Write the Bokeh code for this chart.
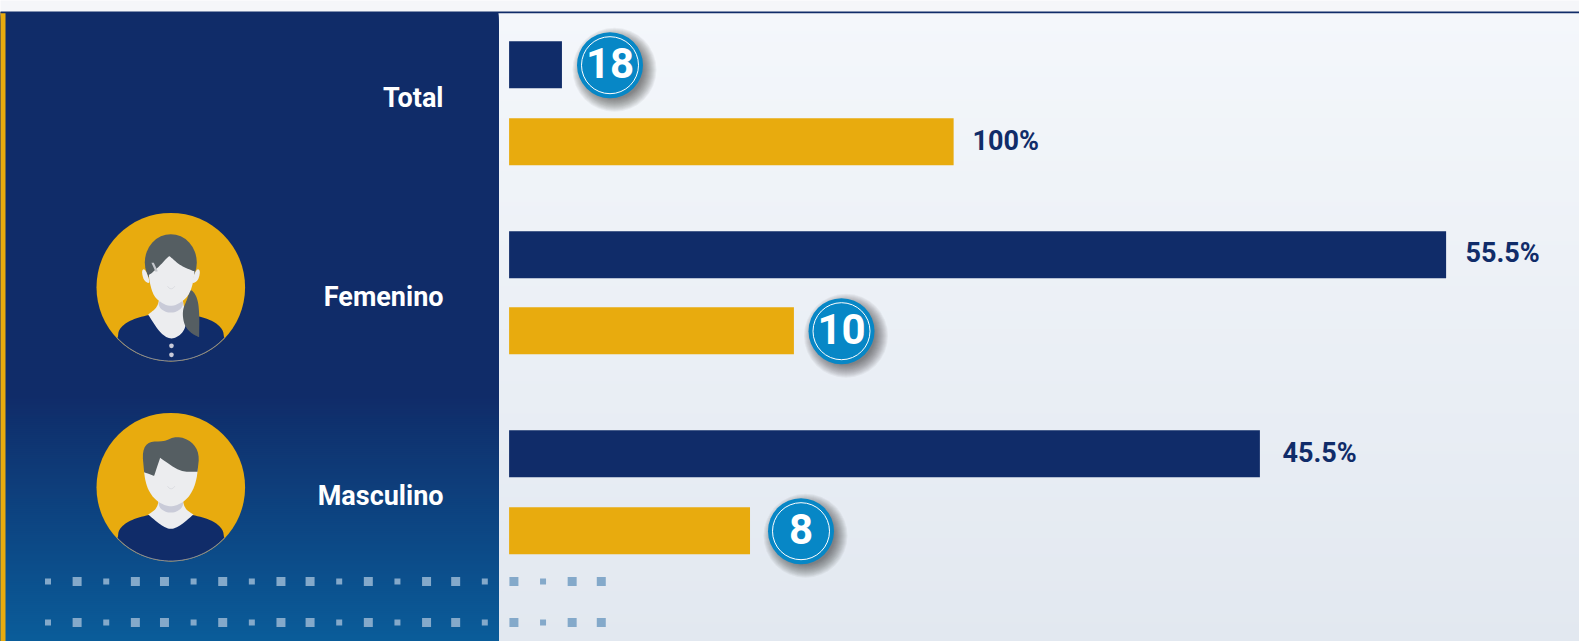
import numpy as np
from bokeh.plotting import figure
from bokeh.models import Range1d
from bokeh.core.properties import value
from bokeh.embed import file_html
from bokeh.resources import INLINE

# ---- data ----
categories = ["Total", "Femenino", "Masculino"]
navy_bars = [3.13, 55.5, 44.47]
gold_bars = [26.33, 16.87, 14.27]
pct_labels = ["100%", "55.5%", "45.5%"]
badge_labels = ["18", "10", "8"]

NAVY, GOLD, BLUE = "#102c69", "#e8ab0e", "#0787c6"
HAIR, SKIN, SHADE = "#555e62", "#ecedef", "#c9cbd8"
W, H = 1579, 641
PX = 16.883
X0 = 508.6

p = figure(width=W, height=H, x_range=(0, W), y_range=(H, 0), output_backend="svg",
           toolbar_location=None, min_border=0, outline_line_color=None,
           background_fill_color="#f5f6f9", border_fill_color="#f5f6f9",
           styles={"position": "absolute", "left": "0px", "top": "0px"})
p.axis.visible = False
p.grid.visible = False
p.extra_x_ranges = {"bars": Range1d(-X0 / PX, (W - X0) / PX)}


def mix(a, b, t):
    a = [int(a[i:i + 2], 16) for i in (1, 3, 5)]
    b = [int(b[i:i + 2], 16) for i in (1, 3, 5)]
    return "#%02x%02x%02x" % tuple(round(u + (v - u) * t) for u, v in zip(a, b))


# backgrounds: each band reaches to the bottom so that no seams show
ys = np.arange(12, H, 2)
p.quad(left=-2, right=W + 2, top=ys, bottom=H + 2, line_alpha=0,
       fill_color=[mix("#f4f7fb", "#e2e8f0", (y - 12) / (H - 12)) for y in ys])
p.quad(left=-2, right=498, top=ys, bottom=H + 2, line_alpha=0,
       fill_color=[mix(NAVY, "#0a5d9a", max(0, (y - 395) / (H - 395))) for y in ys])
p.quad(left=-2, right=4.5, top=12, bottom=H + 2, fill_color=GOLD, line_color=GOLD, line_width=1)
p.quad(left=-2, right=W + 2, top=11, bottom=12.7, fill_color=NAVY, line_alpha=0)

# dots
big_pattern = [0, 1, 0, 1, 1, 0, 1, 0, 1, 1, 0, 1, 0, 1, 1, 0, 1, 0, 1, 1]
for row_y in (581, 622):
    for i, big in enumerate(big_pattern):
        cx = 47.5 + i * 29.12
        s = 9 if big else 6
        p.rect(x=cx, y=row_y, width=s, height=s, fill_color="#84a9ca", line_alpha=0)

# bars
row_centers = [(64.2, 141.2), (254.2, 330.2), (453.2, 530.2)]
p.hbar(y=[r[0] for r in row_centers], left=0, right=navy_bars, height=47, fill_color=NAVY, line_alpha=0,
       x_range_name="bars")
p.hbar(y=[r[1] for r in row_centers], left=0, right=gold_bars, height=47, fill_color=GOLD, line_alpha=0,
       x_range_name="bars")

# texts
p.text(x=[443] * 3, y=[97, 296.5, 495.5], text=categories, text_align="right", text_baseline="middle",
       text_color="#ffffff", text_font=value("Roboto"), text_font_style="bold", text_font_size="27px")
p.text(x=[972, 1465, 1282], y=[140.5, 252.5, 452.5], text=pct_labels, text_align="left", text_baseline="middle",
       text_color=NAVY, text_font=value("Roboto"), text_font_style="bold", text_font_size="27px")

# badges
badge_x = [609.5, 841, 800.5]
badge_y = [64.7, 330.7, 530.7]
for bx, by in zip(badge_x, badge_y):
    for r in np.arange(42, 28, -1.0):
        p.circle(x=bx + 4.5, y=by + 4.5, radius=r, fill_color="#23262b", fill_alpha=0.05, line_alpha=0)
    p.circle(x=bx, y=by, radius=33, fill_color=BLUE, line_alpha=0)
    p.circle(x=bx, y=by, radius=28.5, fill_alpha=0, line_color="#ffffff", line_width=1)
p.text(x=badge_x, y=[v - 1.8 for v in badge_y], text=badge_labels, text_align="center", text_baseline="middle",
       text_color="#ffffff", text_font=value("Roboto"), text_font_style="bold", text_font_size="42px")


# avatars: outlines below are picture pixels x3, relative to the crop origin
def smooth(pts, n=3):
    pts = np.array(pts, float)
    for _ in range(n):
        a, b = pts, np.roll(pts, -1, axis=0)
        pts = np.empty((2 * len(a), 2))
        pts[0::2] = .75 * a + .25 * b
        pts[1::2] = .25 * a + .75 * b
    return pts


def smooth_open(pts, n=3):
    pts = np.array(pts, float)
    for _ in range(n):
        a, b = pts[:-1], pts[1:]
        mid = np.empty((2 * len(a), 2))
        mid[0::2] = .75 * a + .25 * b
        mid[1::2] = .25 * a + .75 * b
        pts = np.r_[pts[:1], mid, pts[-1:]]
    return pts


def avatar(cy, female):
    cx = 170.3

    def draw(pts, color, n=3):
        q = smooth(pts, n)
        p.patch(cx + (q[:, 0] - 272) / 3, cy + (q[:, 1] - 260) / 3, fill_color=color, line_alpha=0)

    def dot(x, y, r, color):
        p.circle(x=cx + (x - 272) / 3, y=cy + (y - 260) / 3, radius=r / 3, fill_color=color, line_alpha=0)

    p.circle(x=cx, y=cy, radius=74.3, fill_color=GOLD, line_alpha=0)
    # body
    ang = np.radians(np.linspace(43, 137, 30))
    arc = np.c_[272 + 221.5 * np.cos(ang), 260 + 221.5 * np.sin(ang)]
    top = smooth_open([(113, 412), (116, 385), (150, 358), (210, 342), (272, 330), (333, 342), (395, 358),
                       (428, 385), (432, 412)], 3)
    outline = np.r_[top, arc]
    p.patch(cx + (outline[:, 0] - 272) / 3, cy + (outline[:, 1] - 260) / 3, fill_color=NAVY, line_alpha=0)
    p.line(cx + (arc[:, 0] - 272) / 3, cy + (arc[:, 1] - 260) / 3, line_color="#8e97ab", line_width=0.8)
    # neck
    if female:
        draw([(238, 290), (232, 320), (204, 342), (204, 342), (240, 398), (272, 418), (305, 402),
              (320, 370), (312, 320), (306, 290)], SKIN)
    else:
        draw([(238, 290), (230, 325), (204, 342), (204, 342), (245, 376), (272, 388), (300, 376),
              (340, 342), (340, 342), (314, 325), (306, 290)], SKIN)
    draw([(235, 295), (237, 325), (272, 340), (307, 325), (310, 295)], SHADE)
    if female:
        # hair, ears, ponytail, face
        p.ellipse(x=cx, y=cy + (186 - 260) / 3, width=156 / 3, height=170 / 3, fill_color=HAIR, line_alpha=0)
        draw([(196, 205), (184, 208), (190, 240), (212, 252)], SKIN)
        draw([(348, 205), (361, 208), (355, 240), (332, 252)], SKIN)
        draw([(330, 262), (352, 290), (358, 340), (357, 410), (357, 410), (335, 400), (312, 375),
              (306, 330), (322, 295)], HAIR)
        draw([(205, 222), (210, 222), (240, 195), (266, 166), (270, 168), (300, 195), (340, 212), (344, 212),
              (336, 262), (318, 296), (272, 322), (226, 296), (212, 262)], SKIN)
        q = np.array([[214, 187], [221, 187], [233, 212], [226, 214]], float)
        p.patch(cx + (q[:, 0] - 272) / 3, cy + (q[:, 1] - 260) / 3, fill_color="#c4c7cc", line_alpha=0)
        dot(274, 436, 7, SHADE)
        dot(274, 463, 7, SHADE)
    else:
        draw([(200, 225), (205, 260), (222, 275), (322, 275), (338, 260), (345, 225)], HAIR)
        draw([(192, 190), (192, 225), (203, 268), (228, 302), (272, 322), (316, 302), (340, 268),
              (352, 225), (352, 190), (300, 160), (240, 150)], SKIN)
        draw([(192, 215), (192, 215), (186, 150), (207, 122), (250, 124), (290, 106), (335, 122), (358, 160),
              (352, 214), (352, 214), (300, 214), (240, 172), (240, 172), (222, 226), (222, 226)], HAIR, 2)
    # mouth
    m = np.array([(262, 257), (267, 263), (273, 265), (279, 263), (284, 257)], float)
    p.line(cx + (m[:, 0] - 272) / 3, cy + (m[:, 1] - 260) / 3, line_color="#d8d9de", line_width=0.8)


avatar(286.7, True)
avatar(486.7, False)

open("out.html", "w").write(file_html(p, INLINE))
